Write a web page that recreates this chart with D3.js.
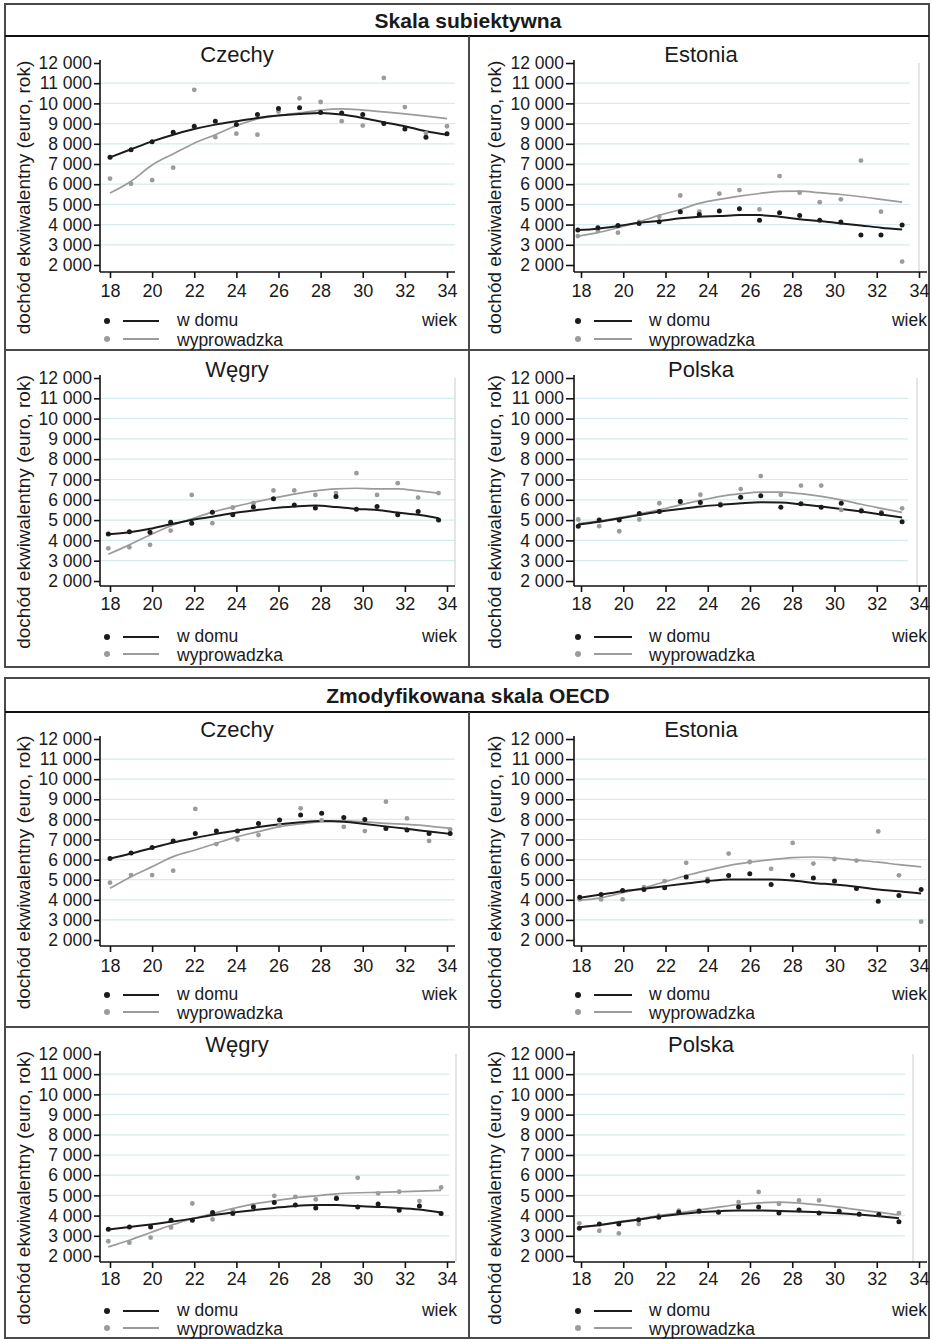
<!DOCTYPE html>
<html><head><meta charset="utf-8">
<script src="https://cdn.jsdelivr.net/npm/d3@7"></script>
<style>
body{margin:0;background:#fff}
svg{display:block}
text{font-family:"Liberation Sans",Arial,Helvetica,sans-serif;fill:#1a1a1a}
</style></head>
<body><svg id="c" width="932" height="1339"></svg>
<script>
// ---------- DATA ----------
const blockTitles = ["Skala subiektywna", "Zmodyfikowana skala OECD"];
const countries = ["Czechy", "Estonia", "Węgry", "Polska"];
const seriesNames = ["w domu", "wyprowadzka"];
const xTicks = [18, 20, 22, 24, 26, 28, 30, 32, 34];
const yTicks = [2000, 3000, 4000, 5000, 6000, 7000, 8000, 9000, 10000, 11000, 12000];
const gridValues = [3000, 4000, 5000, 6000, 7000, 8000, 9000, 10000, 11000];
const xLabel = "wiek";
const yLabel = "dochód ekwiwalentny (euro, rok)";

// Skala subiektywna
const czSubAge = [18,19,20,21,22,23,24,25,26,27,28,29,30,31,32,33,34];
const czSubDom = [7330,7700,8100,8570,8870,9120,8950,9450,9750,9780,9550,9530,9450,9000,8730,8330,8500];
const czSubWyp = [6280,6020,6200,6820,10670,8330,8500,8450,9600,10250,10070,9120,8900,11260,9820,8530,8870];
const czSubDomFit = [7330,7730,8120,8450,8730,8950,9120,9280,9400,9480,9530,9450,9280,9070,8870,8620,8450];
const czSubWypFit = [5560,6150,6950,7500,8030,8450,8900,9230,9400,9530,9670,9730,9670,9580,9480,9370,9250];

const estSubAge = [17.85,18.8,19.75,20.75,21.7,22.7,23.6,24.55,25.5,26.45,27.4,28.35,29.3,30.3,31.25,32.2,33.2];
const estSubDom = [3730,3850,3960,4060,4140,4640,4500,4670,4780,4220,4590,4450,4220,4130,3480,3480,3980];
const estSubWyp = [3430,3700,3600,4130,4390,5440,4640,5530,5710,4750,6400,5580,5110,5250,7170,4640,2170];
const estSubDomFit = [3730,3800,3930,4090,4180,4310,4390,4420,4470,4470,4390,4260,4180,4060,3960,3850,3760];
const estSubWypFit = [3430,3600,3850,4130,4460,4750,5050,5250,5410,5540,5640,5660,5580,5490,5380,5250,5110];

const wgSubAge = [17.92,18.92,19.9,20.88,21.88,22.86,23.83,24.81,25.76,26.75,27.75,28.73,29.7,30.68,31.66,32.63,33.6];
const wgSubDom = [4320,4430,4400,4900,4850,5390,5260,5640,6050,5750,5590,6160,5540,5670,5260,5420,5010];
const wgSubWyp = [3610,3660,3780,4480,6240,4850,5620,5830,6460,6460,6240,6330,7310,6240,6820,6110,6330];
const wgSubDomFit = [4300,4400,4570,4800,5010,5170,5340,5470,5590,5670,5720,5640,5550,5500,5370,5260,5090];
const wgSubWypFit = [3320,3780,4270,4710,5060,5390,5640,5880,6080,6280,6440,6540,6570,6540,6540,6440,6330];

const plSubAge = [17.87,18.86,19.81,20.76,21.71,22.7,23.65,24.6,25.56,26.51,27.46,28.41,29.37,30.32,31.27,32.22,33.2];
const plSubDom = [4700,5000,5000,5330,5420,5920,5870,5750,6130,6200,5630,5800,5630,5830,5450,5330,4920];
const plSubWyp = [5030,4700,4450,5030,5830,5920,6250,5800,6530,7170,6250,6700,6700,5500,5500,5400,5580];
const plSubDomFit = [4780,4920,5080,5250,5420,5550,5670,5750,5830,5880,5870,5780,5670,5550,5420,5280,5130];
const plSubWypFit = [4830,4950,5120,5300,5500,5750,5970,6170,6300,6380,6380,6300,6170,6000,5780,5580,5380];

// Zmodyfikowana skala OECD
const czOecdAge = [18,19,20,21,22.05,23.05,24.05,25.05,26.05,27.05,28.05,29.1,30.1,31.1,32.1,33.15,34.15];
const czOecdDom = [6050,6330,6600,6920,7300,7420,7420,7800,7970,8220,8300,8100,8000,7550,7470,7300,7300];
const czOecdWyp = [4850,5230,5230,5450,8520,6770,7000,7220,7700,8550,7950,7630,7420,8880,8050,6930,7500];
const czOecdDomFit = [6050,6300,6580,6850,7080,7280,7450,7620,7760,7860,7920,7880,7770,7650,7530,7400,7280];
const czOecdWypFit = [4570,5150,5650,6150,6480,6810,7140,7390,7640,7770,7890,7930,7880,7800,7750,7670,7550];

const estOecdAge = [17.94,18.95,19.97,20.98,21.96,22.98,23.99,24.99,25.99,27.0,28.02,29.0,30.0,31.04,32.07,33.05,34.1];
const estOecdDom = [4130,4260,4460,4510,4600,5140,4930,5210,5290,4760,5220,5090,4930,4560,3930,4220,4510];
const estOecdWyp = [4020,4020,4020,4630,4930,5840,5040,6300,5880,5540,6830,5800,6030,5950,7400,5220,2910];
const estOecdDomFit = [4100,4260,4430,4550,4680,4810,4930,5010,5010,5010,4960,4840,4760,4650,4510,4430,4310];
const estOecdWypFit = [3980,4100,4350,4600,4890,5210,5470,5700,5870,6000,6100,6130,6080,5970,5870,5750,5640];

const wgOecdAge = [17.92,18.92,19.93,20.9,21.91,22.87,23.83,24.81,25.8,26.8,27.77,28.75,29.76,30.73,31.73,32.69,33.72];
const wgOecdDom = [3330,3440,3440,3770,3770,4150,4100,4430,4650,4520,4380,4850,4430,4570,4270,4470,4100];
const wgOecdWyp = [2730,2660,2910,3410,4600,3810,4270,4520,4980,4930,4800,4900,5870,5100,5180,4720,5390];
const wgOecdDomFit = [3310,3440,3560,3690,3850,4020,4150,4270,4380,4480,4520,4520,4470,4430,4380,4300,4150];
const wgOecdWypFit = [2450,2780,3160,3520,3850,4100,4350,4570,4730,4880,4980,5080,5130,5150,5180,5210,5250];

const plOecdAge = [17.92,18.87,19.79,20.73,21.68,22.63,23.59,24.51,25.46,26.41,27.37,28.32,29.27,30.22,31.17,32.1,33.05];
const plOecdDom = [3370,3580,3580,3800,3920,4170,4220,4170,4420,4420,4130,4280,4130,4200,4070,4050,3700];
const plOecdWyp = [3620,3250,3120,3580,4000,4250,4250,4200,4670,5170,4580,4750,4750,4250,4080,4030,4120];
const plOecdDomFit = [3420,3530,3670,3800,3950,4070,4170,4220,4250,4250,4230,4200,4170,4120,4050,3970,3870];
const plOecdWypFit = [3420,3530,3700,3830,4000,4130,4280,4420,4550,4630,4670,4620,4530,4420,4280,4170,4030];

// ---------- LAYOUT ----------
const cols = [
  {axisX:100, x18:110, x34:447, axisEnd:455, tick:6, ylabX:30, titleX:237, dotX:107, lx1:123, lx2:159, textX:177, wiekX:457},
  {axisX:574, x18:581, x34:919, axisEnd:927, tick:8, ylabX:501, titleX:701, dotX:578, lx1:594, lx2:632, textX:649, wiekX:927}
];
const rows = [
  {y12:63,  y2:265,  axisY:272,  tickBase:297,  leg1:321,  leg2:339,  titleBase:62},
  {y12:378, y2:581,  axisY:586,  tickBase:610,  leg1:637,  leg2:654,  titleBase:377},
  {y12:739, y2:940,  axisY:946,  tickBase:972,  leg1:995,  leg2:1012, titleBase:737},
  {y12:1054,y2:1256, axisY:1262, tickBase:1285, leg1:1311, leg2:1328, titleBase:1052}
];
const panels = [
  {name:countries[0], r:0, c:0, age:czSubAge,  dom:czSubDom,  wyp:czSubWyp,  domFit:czSubDomFit,  wypFit:czSubWypFit,  gridEnd:455, right:null},
  {name:countries[1], r:0, c:1, age:estSubAge, dom:estSubDom, wyp:estSubWyp, domFit:estSubDomFit, wypFit:estSubWypFit, gridEnd:910, right:919},
  {name:countries[2], r:1, c:0, age:wgSubAge,  dom:wgSubDom,  wyp:wgSubWyp,  domFit:wgSubDomFit,  wypFit:wgSubWypFit,  gridEnd:455, right:455},
  {name:countries[3], r:1, c:1, age:plSubAge,  dom:plSubDom,  wyp:plSubWyp,  domFit:plSubDomFit,  wypFit:plSubWypFit,  gridEnd:908, right:917},
  {name:countries[0], r:2, c:0, age:czOecdAge, dom:czOecdDom, wyp:czOecdWyp, domFit:czOecdDomFit, wypFit:czOecdWypFit, gridEnd:455, right:null},
  {name:countries[1], r:2, c:1, age:estOecdAge,dom:estOecdDom,wyp:estOecdWyp,domFit:estOecdDomFit,wypFit:estOecdWypFit,gridEnd:927, right:null},
  {name:countries[2], r:3, c:0, age:wgOecdAge, dom:wgOecdDom, wyp:wgOecdWyp, domFit:wgOecdDomFit, wypFit:wgOecdWypFit, gridEnd:449, right:456},
  {name:countries[3], r:3, c:1, age:plOecdAge, dom:plOecdDom, wyp:plOecdWyp, domFit:plOecdDomFit, wypFit:plOecdWypFit, gridEnd:905, right:913}
];

const BLACK = "#1b1b1b", GREY = "#9b9b9b", GRID = "#d5ebed", FRAME = "#4a4a4a";
const svg = d3.select("#c");
const fmt = d => d3.format(",")(d).replace(",", "\u00a0");

// ---------- FRAMES ----------
const blocks = [
  {top:4, titleLine:36, mid:350, bottom:667, titleBase:28},
  {top:678, titleLine:712, mid:1027, bottom:1338, titleBase:703}
];
blocks.forEach((b, i) => {
  const g = svg.append("g");
  g.append("rect").attr("x",5).attr("y",b.top).attr("width",924).attr("height",b.bottom-b.top)
    .attr("fill","none").attr("stroke",FRAME).attr("stroke-width",2);
  g.append("line").attr("x1",5).attr("x2",929).attr("y1",b.titleLine).attr("y2",b.titleLine)
    .attr("stroke","#111").attr("stroke-width",2);
  g.append("line").attr("x1",5).attr("x2",929).attr("y1",b.mid).attr("y2",b.mid)
    .attr("stroke",FRAME).attr("stroke-width",2);
  g.append("line").attr("x1",469).attr("x2",469).attr("y1",b.titleLine).attr("y2",b.bottom)
    .attr("stroke",FRAME).attr("stroke-width",2);
  g.append("text").attr("x",468).attr("y",b.titleBase).attr("text-anchor","middle")
    .style("font-size","21px").style("font-weight","bold").text(blockTitles[i]);
});

// ---------- PANELS ----------
panels.forEach(p => {
  const R = rows[p.r], C = cols[p.c];
  const x = d3.scaleLinear().domain([18, 34]).range([C.x18, C.x34]);
  const y = d3.scaleLinear().domain([2000, 12000]).range([R.y2, R.y12]);
  const g = svg.append("g");

  // grid
  g.selectAll(".grid").data(gridValues).join("line")
    .attr("x1", C.axisX + 1).attr("x2", p.gridEnd)
    .attr("y1", d => y(d)).attr("y2", d => y(d))
    .attr("stroke", GRID).attr("stroke-width", 1.2);

  if (p.right !== null) {
    g.append("line").attr("x1", p.right).attr("x2", p.right)
      .attr("y1", R.y12).attr("y2", R.axisY)
      .attr("stroke", "#d4d4d4").attr("stroke-width", 1.2);
  }

  // y axis
  const ya = g.append("g").attr("transform", `translate(${C.axisX},0)`)
    .call(d3.axisLeft(y).tickValues(yTicks).tickFormat(fmt).tickSize(C.tick).tickPadding(2));
  ya.select(".domain").remove();
  ya.selectAll(".tick line").attr("stroke", "#111").attr("stroke-width", 1.6);
  ya.selectAll(".tick text").style("font-size", "17.5px").attr("fill", "#1a1a1a")
    .style("font-family", '"Liberation Sans",Arial,sans-serif');
  g.append("line").attr("x1", C.axisX).attr("x2", C.axisX)
    .attr("y1", R.y12 - 3).attr("y2", R.axisY)
    .attr("stroke", "#111").attr("stroke-width", 1.6);

  // x axis
  const xa = g.append("g").attr("transform", `translate(0,${R.axisY})`)
    .call(d3.axisBottom(x).tickValues(xTicks).tickSize(6).tickPadding(5).tickFormat(d3.format("d")));
  xa.select(".domain").remove();
  xa.selectAll(".tick line").attr("stroke", "#111").attr("stroke-width", 1.6);
  xa.selectAll(".tick text").style("font-size", "18px").attr("fill", "#1a1a1a").attr("dy", null)
    .attr("y", R.tickBase - R.axisY)
    .style("font-family", '"Liberation Sans",Arial,sans-serif');
  g.append("line").attr("x1", C.axisX).attr("x2", C.axisEnd)
    .attr("y1", R.axisY).attr("y2", R.axisY)
    .attr("stroke", "#111").attr("stroke-width", 1.6);

  // lines
  const line = d3.line().curve(d3.curveMonotoneX).x(d => x(d[0])).y(d => y(d[1]));
  g.append("path").datum(d3.zip(p.age, p.wypFit)).attr("d", line)
    .attr("fill", "none").attr("stroke", GREY).attr("stroke-width", 1.7);
  g.append("path").datum(d3.zip(p.age, p.domFit)).attr("d", line)
    .attr("fill", "none").attr("stroke", BLACK).attr("stroke-width", 2);

  // points
  g.selectAll(".pw").data(d3.zip(p.age, p.wyp)).join("circle")
    .attr("cx", d => x(d[0])).attr("cy", d => y(d[1])).attr("r", 2.4).attr("fill", GREY);
  g.selectAll(".pd").data(d3.zip(p.age, p.dom)).join("circle")
    .attr("cx", d => x(d[0])).attr("cy", d => y(d[1])).attr("r", 2.5).attr("fill", BLACK);

  // title
  g.append("text").attr("x", C.titleX).attr("y", R.titleBase).attr("text-anchor", "middle")
    .style("font-size", "22px").text(p.name);

  // y label
  const ymid = (R.y12 + R.axisY) / 2 + 30;
  g.append("text").attr("transform", `translate(${C.ylabX},${ymid}) rotate(-90)`)
    .attr("text-anchor", "middle").style("font-size", "19px").text(yLabel);

  // legend
  [[R.leg1, BLACK, seriesNames[0], 4.5], [R.leg2, GREY, seriesNames[1], 7]].forEach(([ly, col, label, dy]) => {
    g.append("circle").attr("cx", C.dotX).attr("cy", ly).attr("r", 3).attr("fill", col);
    g.append("line").attr("x1", C.lx1).attr("x2", C.lx2).attr("y1", ly).attr("y2", ly)
      .attr("stroke", col).attr("stroke-width", 2);
    g.append("text").attr("x", C.textX).attr("y", ly + dy).style("font-size", "17.5px").text(label);
  });
  g.append("text").attr("x", C.wiekX).attr("y", R.leg1 + 4.5).attr("text-anchor", "end")
    .style("font-size", "17.5px").text(xLabel);
});
</script>
</body></html>
